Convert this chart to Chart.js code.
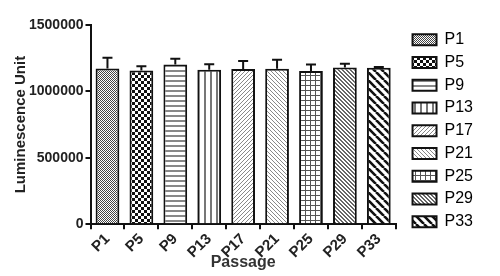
<!DOCTYPE html>
<html>
<head>
<meta charset="utf-8">
<script src="https://cdn.jsdelivr.net/npm/chart.js@4"></script>
<style>
  html, body { margin: 0; padding: 0; background: #fff; }
  #wrap { width: 500px; height: 276px; }
</style>
</head>
<body>
<div id="wrap"><canvas id="chart"></canvas></div>
<script>
// data
const passages = ["P1", "P5", "P9", "P13", "P17", "P21", "P25", "P29", "P33"];
const means = [1173000, 1158000, 1203000, 1163000, 1168000, 1170000, 1153000, 1180000, 1178000];
const errors = [80000, 32000, 43000, 42000, 60000, 68000, 50000, 28000, 5000];
const yTicks = [0, 500000, 1000000, 1500000];

// small tile canvases turned into fill patterns
function makePattern(size, draw) {
  const c = document.createElement("canvas");
  c.width = size;
  c.height = size;
  const ctx = c.getContext("2d");
  ctx.fillStyle = "#fff";
  ctx.fillRect(0, 0, size, size);
  draw(ctx, size);
  return ctx.createPattern(c, "repeat");
}

const patterns = [
  // P1 fine grey checker
  makePattern(2, function (ctx) {
    ctx.fillStyle = "#444";
    ctx.fillRect(0, 0, 1, 1);
    ctx.fillRect(1, 1, 1, 1);
  }),
  // P5 coarse checker
  makePattern(6, function (ctx) {
    ctx.fillStyle = "#111";
    ctx.fillRect(0, 0, 3, 3);
    ctx.fillRect(3, 3, 3, 3);
  }),
  // P9 horizontal lines
  makePattern(5, function (ctx) {
    ctx.fillStyle = "#888";
    ctx.fillRect(0, 0, 5, 2);
  }),
  // P13 vertical lines
  makePattern(6, function (ctx) {
    ctx.fillStyle = "#777";
    ctx.fillRect(0, 0, 2, 6);
  }),
  // P17 fine diagonal /
  makePattern(4, function (ctx) {
    ctx.fillStyle = "#888";
    for (let i = 0; i < 4; i++) ctx.fillRect(3 - i, i, 1, 1);
  }),
  // P21 fine diagonal \
  makePattern(4, function (ctx) {
    ctx.fillStyle = "#888";
    for (let i = 0; i < 4; i++) ctx.fillRect(i, i, 1, 1);
  }),
  // P25 grid
  makePattern(5, function (ctx) {
    ctx.fillStyle = "#555";
    ctx.fillRect(0, 0, 5, 1);
    ctx.fillRect(0, 0, 1, 5);
  }),
  // P29 dark fine crosshatch
  makePattern(4, function (ctx) {
    ctx.fillStyle = "#666";
    ctx.fillRect(0, 0, 2, 1);
    ctx.fillRect(1, 1, 2, 1);
    ctx.fillRect(2, 2, 2, 1);
    ctx.fillRect(3, 3, 1, 1);
    ctx.fillRect(0, 3, 1, 1);
  }),
  // P33 thick diagonal stripes \
  makePattern(8, function (ctx, s) {
    ctx.strokeStyle = "#111";
    ctx.lineWidth = 2.6;
    ctx.beginPath();
    for (let k = -1; k <= 1; k++) {
      ctx.moveTo(k * s, 0);
      ctx.lineTo(k * s + s, s);
    }
    ctx.stroke();
  })
];

// upper error bars, drawn from the scales
const errorBars = {
  id: "errorBars",
  afterDatasetsDraw(chart) {
    const ctx = chart.ctx;
    const meta = chart.getDatasetMeta(0);
    const yScale = chart.scales.y;
    ctx.save();
    ctx.strokeStyle = "#111";
    ctx.lineWidth = 2;
    meta.data.forEach(function (bar, i) {
      const top = yScale.getPixelForValue(means[i]);
      const y = yScale.getPixelForValue(means[i] + errors[i]);
      ctx.beginPath();
      ctx.moveTo(bar.x, top);
      ctx.lineTo(bar.x, y);
      ctx.moveTo(bar.x - 5, y);
      ctx.lineTo(bar.x + 5, y);
      ctx.stroke();
    });
    ctx.restore();
  }
};

new Chart(document.getElementById("chart"), {
  type: "bar",
  data: {
    labels: passages,
    datasets: [{
      data: means,
      backgroundColor: patterns,
      borderColor: "#111",
      borderWidth: 2,
      borderSkipped: "bottom",
      barPercentage: 0.7,
      categoryPercentage: 1
    }]
  },
  options: {
    responsive: true,
    maintainAspectRatio: false,
    animation: false,
    layout: { padding: { top: 25, right: 17, left: 12, bottom: 4 } },
    plugins: {
      tooltip: { enabled: false },
      legend: {
        position: "right",
        align: "start",
        labels: {
          boxWidth: 24,
          boxHeight: 11,
          padding: 6.75,
          color: "#222",
          font: { family: "Arial, 'Liberation Sans'", size: 16 },
          generateLabels(chart) {
            return passages.map(function (p, i) {
              return {
                text: p,
                fillStyle: patterns[i],
                strokeStyle: "#111",
                lineWidth: 2,
                index: i
              };
            });
          }
        }
      }
    },
    scales: {
      x: {
        grid: { drawOnChartArea: false, drawTicks: true, tickLength: 5, color: "#111", lineWidth: 2 },
        border: { color: "#111", width: 2 },
        ticks: {
          color: "#222",
          maxRotation: 45,
          minRotation: 45,
          autoSkip: false,
          padding: 1,
          font: { family: "Arial, 'Liberation Sans'", size: 15, weight: "bold" }
        },
        title: {
          display: true,
          text: "Passage",
          color: "#333",
          padding: { top: -10, bottom: 0 },
          font: { family: "Arial, 'Liberation Sans'", size: 16, weight: "bold" }
        }
      },
      y: {
        min: 0,
        max: 1500000,
        afterBuildTicks(axis) {
          axis.ticks = yTicks.map(function (v) { return { value: v }; });
        },
        grid: { drawOnChartArea: false, drawTicks: true, tickLength: 5, color: "#111", lineWidth: 2 },
        border: { color: "#111", width: 2 },
        ticks: {
          color: "#222",
          padding: 2,
          callback: function (v) { return String(v); },
          font: { family: "Arial, 'Liberation Sans'", size: 14, weight: "bold" }
        },
        title: {
          display: true,
          text: "Luminescence Unit",
          color: "#222",
          padding: { top: 0, bottom: 0 },
          font: { family: "Arial, 'Liberation Sans'", size: 15, weight: "bold" }
        }
      },
      // empty spacer between plot and legend
      gap: {
        type: "linear",
        position: "right",
        display: true,
        grid: { display: false },
        border: { display: false },
        ticks: { display: false },
        afterFit(axis) { axis.width = 10; }
      }
    }
  },
  plugins: [errorBars]
});
</script>
</body>
</html>
